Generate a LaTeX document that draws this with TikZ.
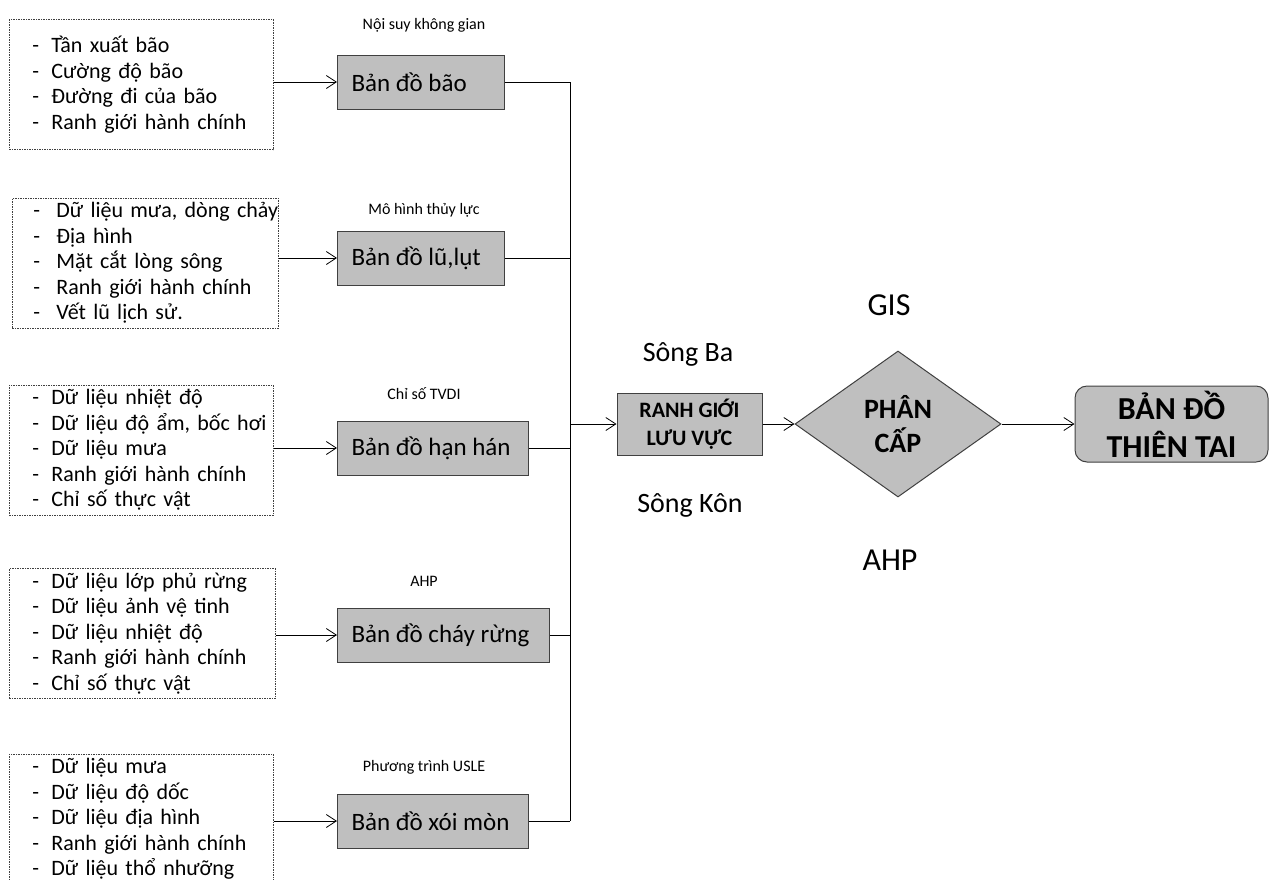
\documentclass[tikz,border=0pt]{standalone}
\usepackage{fontspec}
\setmainfont{Carlito}
\usetikzlibrary{shapes.geometric,arrows.meta}
\def\itmgap{19pt}
\def\itmind{10pt}
\newcommand{\itm}[1]{\hspace*{\itmind}\makebox[\itmgap][l]{-}\mbox{#1}}
\begin{document}
\begin{tikzpicture}[x=1pt,y=-1pt,
  listbox/.style={draw=black!75,dash pattern=on 1.5pt off 1pt,line width=0.8pt,inner xsep=13pt,inner ysep=0pt,
    align=left,font=\fontsize{22}{25.6}\selectfont,minimum height=130pt,anchor=west},
  mapbox/.style={draw=black!75,fill=black!25,line width=1pt,minimum height=54pt,inner xsep=14pt,
    anchor=west,font=\fontsize{25}{30}\selectfont},
  greybox/.style={draw=black!75,fill=black!25,line width=1pt,align=center,inner sep=0pt},
  toplabel/.style={font=\fontsize{16}{19}\selectfont},
  sidelabel/.style={font=\fontsize{28}{32}\selectfont},
  arr/.style={-{Straight Barb[length=10pt,width=13pt]},line width=0.8pt}]
\useasboundingbox (0,0) rectangle (1269,879);

% input data
\node[listbox,text width=238pt] (L1) at (9,84.5) {\itm{Tần xuất bão}\\\itm{Cường độ bão}\\\itm{Đường đi của bão}\\\itm{Ranh giới hành chính}};
\node[listbox,text width=240pt,inner xsep=0pt,minimum width=266pt] (L2) at (12,263) {\def\itmind{8pt}\def\itmgap{23pt}\itm{Dữ liệu mưa, dòng chảy}\\\itm{Địa hình}\\\itm{Mặt cắt lòng sông}\\\itm{Ranh giới hành chính}\\\itm{Vết lũ lịch sử.}};
\node[listbox,text width=238pt] (L3) at (9,450) {\itm{Dữ liệu nhiệt độ}\\\itm{Dữ liệu độ ẩm, bốc hơi}\\\itm{Dữ liệu mưa}\\\itm{Ranh giới hành chính}\\\itm{Chỉ số thực vật}};
\node[listbox,text width=240pt] (L4) at (9,633.5) {\itm{Dữ liệu lớp phủ rừng}\\\itm{Dữ liệu ảnh vệ tinh}\\\itm{Dữ liệu nhiệt độ}\\\itm{Ranh giới hành chính}\\\itm{Chỉ số thực vật}};
\node[listbox,text width=238pt] (L5) at (9,819) {\itm{Dữ liệu mưa}\\\itm{Dữ liệu độ dốc}\\\itm{Dữ liệu địa hình}\\\itm{Ranh giới hành chính}\\\itm{Dữ liệu thổ nhưỡng}};

% hazard maps
\foreach \n/\y/\w/\ly/\lab/\txt in {bao/82/167/25/Nội suy không gian/Bản đồ bão,
  lu/258/167/210/Mô hình thủy lực/{Bản đồ lũ,lụt},
  han/448/191/394/Chỉ số TVDI/Bản đồ hạn hán,
  chay/635/212/581/AHP/Bản đồ cháy rừng,
  xoi/821/191/767/Phương trình USLE/Bản đồ xói mòn}
{\pgfmathsetmacro{\tw}{\w-28}
\node[mapbox,minimum width=\w] (\n) at (337,\y) {\makebox[\tw pt][l]{\txt}};
\node[toplabel] (\n lab) at (424,\ly) {\lab};
}

\coordinate (busN) at (570,82);
\coordinate (busS) at (570,821);
\draw[line width=0.8pt] (busN) -- (busS);
\foreach \l/\n in {L1/bao,L2/lu,L3/han,L4/chay,L5/xoi}
  \draw[arr] (\l.east |- \n) -- (\n.west);
\foreach \n in {bao,lu,han,chay,xoi}
  \draw[line width=0.8pt] (\n.east) -- (\n.east -| busN);

% basin and classification
\node[greybox,minimum width=145pt,minimum height=62pt,font=\bfseries\fontsize{22}{28}\selectfont] (rg) at (689.5,424) {RANH GIỚI\\LƯU VỰC};
\node[sidelabel] (ba) at (688,354) {Sông Ba};
\node[sidelabel] (kon) at (690,505) {Sông Kôn};
\node[greybox,diamond,minimum width=206pt,minimum height=146pt,font=\bfseries\fontsize{28}{34}\selectfont] (ph) at (898,424) {PHÂN\\CẤP};
\node[sidelabel,font=\fontsize{32}{36}\selectfont] (gis) at (889,305) {GIS};
\node[sidelabel,font=\fontsize{32}{36}\selectfont] (ahp) at (890,560) {AHP};
\node[greybox,rounded corners=12pt,minimum width=193pt,minimum height=76pt,font=\bfseries\fontsize{32}{38}\selectfont] (thien) at (1171.5,424) {BẢN ĐỒ\\THIÊN TAI};

\draw[arr] (busN |- rg.west) -- (rg.west);
\draw[arr] (rg.east) -- (ph.west);
\draw[arr] (ph.east) -- (thien.west);
\end{tikzpicture}
\end{document}
